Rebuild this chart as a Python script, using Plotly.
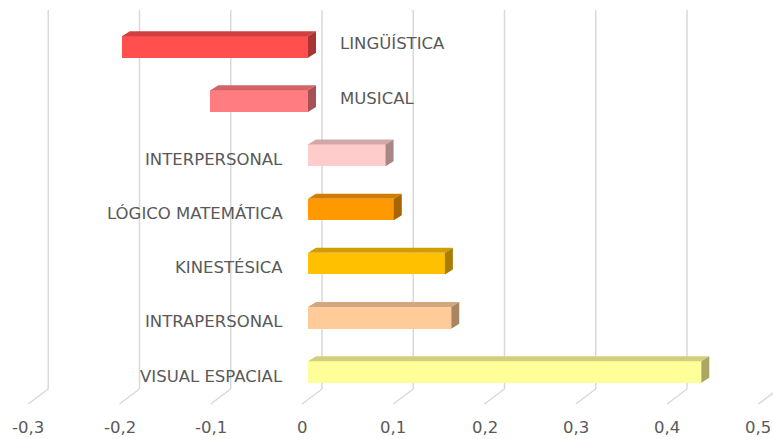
import plotly.graph_objects as go

categories = ["VISUAL ESPACIAL", "INTRAPERSONAL", "KINESTÉSICA", "LÓGICO MATEMÁTICA",
              "INTERPERSONAL", "MUSICAL", "LINGÜÍSTICA"]
values = [0.431, 0.157, 0.150, 0.094, 0.085, -0.107, -0.204]
front_colors = ["#FFFF99", "#FFCC99", "#FFC000", "#FF9900", "#FFCCCC", "#FF7C80", "#FF4F4F"]
tick_values = [-0.3, -0.2, -0.1, 0, 0.1, 0.2, 0.3, 0.4, 0.5]
tick_labels = ["-0,3", "-0,2", "-0,1", "0", "0,1", "0,2", "0,3", "0,4", "0,5"]
grid_values = [-0.3, -0.2, -0.1, 0, 0.1, 0.2, 0.3, 0.4]

W, H = 773, 439
PX_PER_UNIT = 912.5
ZERO_PX = 308
YC0, YSTEP = 372, 54.17

x_range = [-ZERO_PX / PX_PER_UNIT, (W - ZERO_PX) / PX_PER_UNIT]
y_range = [(YC0 - H) / YSTEP, YC0 / YSTEP]

DEPTH_DX = 8 / PX_PER_UNIT
DEPTH_DY = 5 / YSTEP
HALF = 0.2


def shade(hexcol, f):
    h = hexcol.lstrip("#")
    r, g, b = (int(h[i:i + 2], 16) for i in (0, 2, 4))
    return "rgb(%d,%d,%d)" % (int(r * f), int(g * f), int(b * f))


fig = go.Figure()

# front faces
fig.add_trace(go.Bar(
    y=list(range(len(categories))), x=values, orientation="h",
    width=2 * HALF, marker=dict(color=front_colors, line=dict(width=0)),
    hoverinfo="skip", showlegend=False,
))

# top and side faces (3D effect)
for i, (v, c) in enumerate(zip(values, front_colors)):
    x0, x1 = min(0, v), max(0, v)
    yt, yb = i + HALF, i - HALF
    fig.add_trace(go.Scatter(
        x=[x0, x1, x1 + DEPTH_DX, x0 + DEPTH_DX, x0],
        y=[yt, yt, yt + DEPTH_DY, yt + DEPTH_DY, yt],
        fill="toself", fillcolor=shade(c, 0.82), mode="lines",
        line=dict(width=0), hoverinfo="skip", showlegend=False))
    fig.add_trace(go.Scatter(
        x=[x1, x1, x1 + DEPTH_DX, x1 + DEPTH_DX, x1],
        y=[yb, yt, yt + DEPTH_DY, yb + DEPTH_DY, yb],
        fill="toself", fillcolor=shade(c, 0.66), mode="lines",
        line=dict(width=0), hoverinfo="skip", showlegend=False))

shapes = []
grid_col = "#D9D9D9"
y_back_bot = (H - 389) / H
y_top = (H - 10) / H
y_front = (H - 404) / H
for g in grid_values:
    shapes.append(dict(type="line", xref="x", yref="paper", xsizemode="pixel",
                       xanchor=g, x0=14, x1=14, y0=y_back_bot, y1=y_top,
                       line=dict(color=grid_col, width=1.5), layer="below"))
for g in tick_values:
    shapes.append(dict(type="line", xref="x", yref="paper", xsizemode="pixel",
                       xanchor=g, x0=14, x1=-6, y0=y_back_bot, y1=y_front,
                       line=dict(color=grid_col, width=1.5), layer="below"))

annotations = []
font = dict(family="DejaVu Sans", size=16.5, color="#595959")
for g, t in zip(tick_values, tick_labels):
    annotations.append(dict(x=g, y=(H - 427) / H, xref="x", yref="paper", text=t,
                            showarrow=False, xanchor="center", yanchor="middle",
                            xshift=-6, font=font))
for i, (cat, v) in enumerate(zip(categories, values)):
    if v >= 0:
        annotations.append(dict(x=0, y=i, xref="x", yref="y", text=cat, showarrow=False,
                                xanchor="right", yanchor="middle", xshift=-23, yshift=-4,
                                font=font))
    else:
        annotations.append(dict(x=0, y=i, xref="x", yref="y", text=cat, showarrow=False,
                                xanchor="left", yanchor="middle", xshift=30, yshift=3,
                                font=font))

fig.update_layout(
    width=W, height=H, margin=dict(l=0, r=0, t=0, b=0),
    paper_bgcolor="white", plot_bgcolor="white",
    xaxis=dict(range=x_range, showgrid=False, zeroline=False, showticklabels=False,
               fixedrange=True),
    yaxis=dict(range=y_range, showgrid=False, zeroline=False, showticklabels=False,
               fixedrange=True),
    shapes=shapes, annotations=annotations, bargap=0, showlegend=False,
)

fig.write_html("out.html", post_script="document.body.style.margin='0';",
               config={"displayModeBar": False})
